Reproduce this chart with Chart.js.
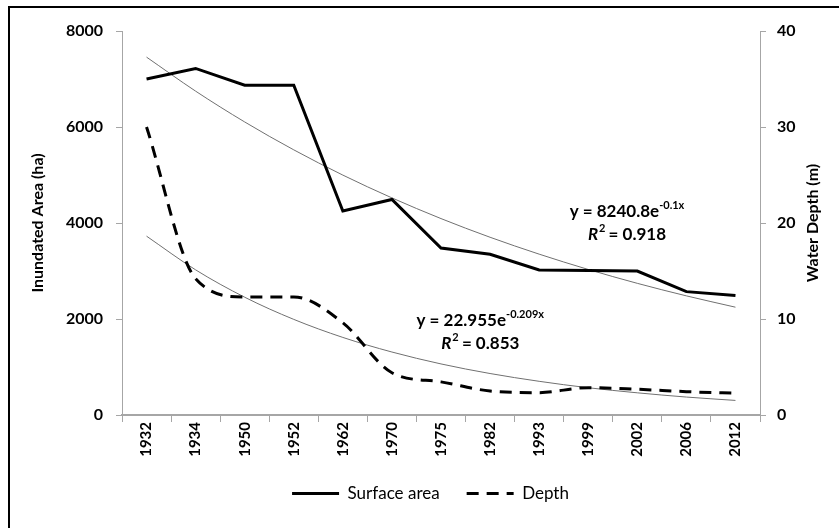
<!DOCTYPE html>
<html>
<head>
<meta charset="utf-8">
<script src="https://cdn.jsdelivr.net/npm/chart.js@4.4.0/dist/chart.umd.min.js"></script>
<style>
  html, body { margin: 0; padding: 0; background: #fff; }
  #wrap { position: relative; width: 839px; height: 528px; overflow: hidden; }
  #frame { position: absolute; left: 8px; top: 6px; right: -4px; bottom: -4px;
           border-left: 2px solid #000; border-top: 2px solid #000; pointer-events: none; }
  canvas { position: absolute; left: 0; top: 0; }
</style>
</head>
<body>
<div id="wrap">
  <canvas id="myChart" width="839" height="528"></canvas>
  <div id="frame"></div>
</div>
<script>
const years = ["1932", "1934", "1950", "1952", "1962", "1970", "1975", "1982", "1993", "1999", "2002", "2006", "2012"];
const surfaceArea = [7000, 7220, 6870, 6870, 4250, 4490, 3480, 3350, 3020, 3010, 3000, 2570, 2490];
const waterDepth = [30, 14.2, 12.3, 12.3, 9.6, 4.4, 3.45, 2.5, 2.33, 2.85, 2.68, 2.43, 2.27];
// exponential trendlines as drawn (Excel fit)
const areaTrend = [7456, 6747, 6105, 5524, 4998, 4523, 4092, 3703, 3351, 3032, 2743, 2482, 2246];
const depthTrend = [18.63, 15.12, 12.27, 9.96, 8.08, 6.56, 5.32, 4.32, 3.51, 2.84, 2.31, 1.87, 1.52];
const areaTicks = [0, 2000, 4000, 6000, 8000];
const depthTicks = [0, 10, 20, 30, 40];
const areaEq = ["y = 8240.8e", "-0.1x", "0.918"];
const depthEq = ["y = 22.955e", "-0.209x", "0.853"];

const FONT = "Lato, 'Open Sans', sans-serif";
const AXIS = "#a6a6a6";

// draws "y = ...e^(..)" and "R² = ..." labels and the axis titles
const labelsPlugin = {
  id: "labels",
  afterDatasetsDraw(chart) {
    const ctx = chart.ctx;
    const x = chart.scales.x, y = chart.scales.y, y1 = chart.scales.y1;
    ctx.save();
    ctx.fillStyle = "#000";
    ctx.textBaseline = "middle";

    function eqLine(cx, cy, eq) {
      ctx.font = "bold 17px " + FONT;
      const w1 = ctx.measureText(eq[0]).width;
      ctx.font = "bold 11px " + FONT;
      const w2 = ctx.measureText(eq[1]).width;
      let left = cx - (w1 + w2) / 2;
      ctx.textAlign = "left";
      ctx.font = "bold 17px " + FONT;
      ctx.fillText(eq[0], left, cy);
      ctx.font = "bold 11px " + FONT;
      ctx.fillText(eq[1], left + w1, cy - 6);
    }
    function rLine(cx, cy, val) {
      ctx.font = "italic bold 17px " + FONT;
      const wR = ctx.measureText("R").width;
      ctx.font = "bold 11px " + FONT;
      const w2 = ctx.measureText("2").width;
      ctx.font = "bold 17px " + FONT;
      const rest = " = " + val;
      const w3 = ctx.measureText(rest).width;
      let left = cx - (wR + w2 + w3) / 2;
      ctx.textAlign = "left";
      ctx.font = "italic bold 17px " + FONT;
      ctx.fillText("R", left, cy);
      ctx.font = "bold 11px " + FONT;
      ctx.fillText("2", left + wR + 1, cy - 6);
      ctx.font = "bold 17px " + FONT;
      ctx.fillText(rest, left + wR + w2, cy);
    }

    eqLine(x.getPixelForValue(9.79), y.getPixelForValue(4240), areaEq);
    rLine(x.getPixelForValue(9.79), y.getPixelForValue(3760), areaEq[2]);
    eqLine(x.getPixelForValue(6.8), y1.getPixelForValue(9.82), depthEq);
    rLine(x.getPixelForValue(6.8), y1.getPixelForValue(7.42), depthEq[2]);

    // axis titles, both read bottom to top
    const midY = (chart.chartArea.top + chart.chartArea.bottom) / 2;
    ctx.font = "bold 16px " + FONT;
    ctx.textAlign = "center";
    ctx.save();
    ctx.translate(38, midY);
    ctx.rotate(-Math.PI / 2);
    ctx.fillText("Inundated Area (ha)", 0, 0);
    ctx.restore();
    ctx.save();
    ctx.translate(813, midY);
    ctx.rotate(-Math.PI / 2);
    ctx.fillText("Water Depth (m)", 0, 0);
    ctx.restore();
    ctx.restore();
  }
};

let charts = document.getElementById("myChart").getContext("2d");

let lineChart = new Chart(charts, {
  type: "line",
  data: {
    labels: years,
    datasets: [
      {
        label: "Surface area",
        data: surfaceArea,
        yAxisID: "y",
        borderColor: "#000",
        backgroundColor: "#000",
        borderWidth: 3,
        pointRadius: 0,
        tension: 0,
      },
      {
        label: "Depth",
        data: waterDepth,
        yAxisID: "y1",
        borderColor: "#000",
        backgroundColor: "#000",
        borderWidth: 3,
        borderDash: [12, 8],
        pointRadius: 0,
        cubicInterpolationMode: "monotone",
      },
      {
        label: "area trend",
        data: areaTrend,
        yAxisID: "y",
        borderColor: "#707070",
        borderWidth: 1,
        pointRadius: 0,
        cubicInterpolationMode: "monotone",
      },
      {
        label: "depth trend",
        data: depthTrend,
        yAxisID: "y1",
        borderColor: "#707070",
        borderWidth: 1,
        pointRadius: 0,
        cubicInterpolationMode: "monotone",
      },
    ],
  },
  options: {
    responsive: false,
    animation: false,
    layout: { padding: { left: 30, right: 8, top: 31, bottom: 16 } },
    plugins: {
      tooltip: { enabled: false },
      legend: {
        position: "bottom",
        labels: {
          generateLabels: (chart) =>
            Chart.defaults.plugins.legend.labels.generateLabels(chart)
              .filter((item) => item.datasetIndex < 2)
              .map((item) => ({
                ...item,
                lineWidth: 3,
                lineDash: chart.data.datasets[item.datasetIndex].borderDash || [],
              })),
          usePointStyle: true,
          pointStyle: "line",
          pointStyleWidth: 47,
          padding: 27,
          color: "#000",
          font: { family: FONT, size: 17 },
        },
      },
    },
    scales: {
      x: {
        offset: true,
        grid: { offset: true, drawOnChartArea: false, tickLength: 7, color: AXIS },
        border: { color: AXIS, width: 2 },
        ticks: {
          minRotation: 90,
          maxRotation: 90,
          color: "#000",
          padding: 0,
          font: { family: FONT, size: 15, weight: "bold" },
        },
        afterFit: (s) => { s.height = 43; },
      },
      y: {
        position: "left",
        min: 0,
        max: 8000,
        afterBuildTicks: (s) => { s.ticks = areaTicks.map((v) => ({ value: v })); },
        grid: { drawOnChartArea: false, tickLength: 6, color: AXIS },
        border: { color: AXIS },
        ticks: {
          color: "#000",
          padding: 13,
          callback: (v) => String(v),
          font: { family: FONT, size: 16, weight: "bold" },
        },
        afterFit: (s) => { s.width = 92; },
      },
      y1: {
        position: "right",
        min: 0,
        max: 40,
        afterBuildTicks: (s) => { s.ticks = depthTicks.map((v) => ({ value: v })); },
        grid: { drawOnChartArea: false, tickLength: 6, color: AXIS },
        border: { color: AXIS },
        ticks: {
          color: "#000",
          padding: 11,
          callback: (v) => String(v),
          font: { family: FONT, size: 16, weight: "bold" },
        },
        afterFit: (s) => { s.width = 71; },
      },
    },
  },
  plugins: [labelsPlugin],
});
</script>
</body>
</html>
